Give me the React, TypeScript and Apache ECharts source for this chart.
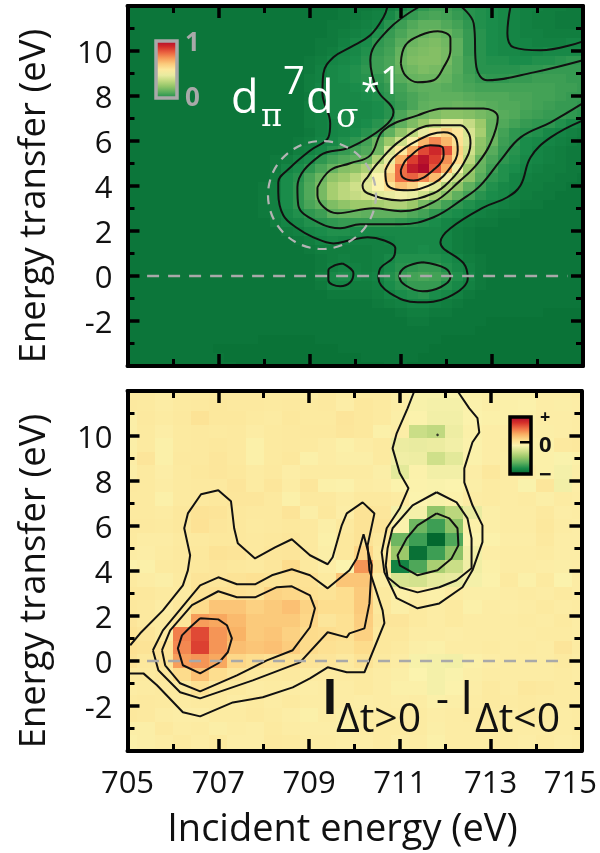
import React, { useEffect, useRef } from "react";
import * as echarts from "echarts";

const FONT = '"Open Sans", sans-serif';
const X_MIN = 705, X_MAX = 715, Y_MIN = -4, Y_MAX = 12;
const xMajor = [705, 707, 709, 711, 713, 715];
const xMinor = [706, 708, 710, 712, 714];
const yMajor = [-4, -2, 0, 2, 4, 6, 8, 10, 12];
const yMinor = [-3, -1, 1, 3, 5, 7, 9, 11];
const yLabels = [-2, 0, 2, 4, 6, 8, 10];
const colorStops = ["#03682f", "#1a8c4a", "#5fb05e", "#9cc96a", "#cfe08a", "#fbf3ae", "#fddc8c", "#f9ae62", "#ef6f45", "#d6302a", "#b00a2c"];

// Upper panel: intensity (0-100). Columns 705 + 0.25 i, rows 12 - 0.4 j.
const topRows = [
[4,4,4,4,4,4,4,4,4,4,4,4,4,4,4,4,4,4,4,5,5,5,6,7,9,11,13,15,15,13,12,11,10,9,8,7,7,6,6,5,5],
[4,4,4,4,4,4,4,4,4,4,4,4,4,4,4,4,4,4,4,5,5,6,7,9,12,14,16,17,16,14,12,11,10,9,8,7,6,6,5,5,5],
[4,4,4,4,4,4,4,4,4,4,4,4,4,4,4,4,4,4,5,5,6,7,8,12,15,18,20,20,18,16,13,11,10,9,8,7,6,6,5,5,5],
[4,4,4,4,4,4,4,4,4,4,4,4,4,4,4,4,4,4,5,6,7,8,11,14,17,20,21,23,21,18,14,12,10,9,8,7,7,6,6,6,6],
[4,4,4,4,4,4,4,4,4,4,4,4,4,4,4,4,4,5,5,7,9,10,13,15,19,22,24,25,23,20,14,12,10,9,8,8,7,7,7,8,8],
[4,4,4,4,4,4,4,4,4,4,4,4,4,4,4,4,4,5,6,8,9,11,14,16,21,24,25,26,24,20,14,12,10,9,9,8,8,9,9,9,9],
[4,4,4,4,4,4,4,4,4,4,4,4,4,4,4,4,5,6,8,9,10,12,15,17,22,25,26,26,24,19,15,12,11,11,10,10,11,11,12,13,13],
[4,4,4,4,4,4,4,4,4,4,4,4,4,4,4,4,5,7,9,10,11,13,15,17,21,23,25,24,22,19,15,12,12,12,12,13,13,14,14,14,14],
[4,4,4,4,4,4,4,4,4,4,4,4,4,4,4,4,6,7,9,10,11,12,13,16,19,21,22,22,21,18,16,14,13,13,14,14,15,15,15,14,14],
[4,4,4,4,4,4,4,4,4,4,4,4,4,4,4,4,6,8,9,9,10,11,12,14,16,19,20,20,19,18,17,16,16,16,16,16,16,16,15,15,14],
[4,4,4,4,4,4,4,4,4,4,4,4,4,4,4,4,5,7,9,9,9,10,11,13,15,17,19,20,20,20,19,18,18,18,17,17,16,16,15,14,14],
[4,4,4,4,4,4,4,4,4,4,4,4,4,4,4,4,6,7,9,9,9,9,10,12,14,17,20,21,21,22,21,20,19,18,18,17,16,15,14,14,13],
[4,4,4,4,4,4,4,4,4,4,4,4,4,4,4,4,6,7,9,9,9,9,10,12,17,21,23,25,27,27,26,24,22,19,18,16,15,14,14,13,12],
[4,4,4,4,4,4,4,4,4,4,4,4,4,4,4,4,6,7,8,9,9,10,12,15,20,25,30,37,44,44,38,30,21,18,16,14,13,13,11,9,8],
[4,4,4,4,4,4,4,4,4,4,4,4,4,4,4,4,5,7,8,9,10,12,14,20,28,36,46,55,62,56,42,32,21,16,13,12,11,9,8,7,6],
[4,4,4,4,4,4,4,4,4,4,4,4,4,4,4,5,6,8,9,11,13,16,22,30,40,52,68,76,68,58,43,28,22,15,13,10,9,8,7,6,5],
[4,4,4,4,4,4,4,4,4,4,4,4,4,4,4,6,7,9,12,14,16,18,23,42,55,70,86,92,85,62,40,27,19,14,12,10,8,7,6,5,5],
[4,4,4,4,4,4,4,4,4,4,4,4,4,5,6,8,10,13,16,18,20,22,34,46,70,88,97,88,75,60,36,22,17,13,11,9,8,7,6,5,5],
[4,4,4,4,4,4,4,4,4,4,4,4,4,5,8,10,13,17,21,26,28,33,44,58,80,95,100,84,70,48,30,21,15,11,10,8,7,6,6,5,5],
[4,4,4,4,4,4,4,4,4,4,4,4,4,6,10,12,17,22,28,31,36,42,50,64,80,82,76,67,48,38,28,19,13,11,8,7,6,6,5,5,4],
[4,4,4,4,4,4,4,4,4,4,4,4,5,7,10,13,18,24,32,36,40,44,50,58,66,62,52,44,34,28,20,15,11,9,8,6,6,5,5,4,4],
[4,4,4,4,4,4,4,4,4,4,4,4,5,7,10,13,18,24,32,36,38,40,44,46,48,46,40,33,26,20,16,12,10,9,7,6,5,5,4,4,4],
[4,4,4,4,4,4,4,4,4,4,4,4,5,7,10,13,17,20,25,28,30,30,32,34,34,30,24,20,16,13,11,9,8,7,6,5,5,4,4,4,4],
[4,4,4,4,4,4,4,4,4,4,4,4,5,7,9,11,13,15,20,21,21,20,20,20,20,18,16,13,11,10,8,7,6,5,5,4,4,4,4,4,4],
[4,4,4,4,4,4,4,4,4,4,4,4,4,6,8,9,11,12,13,14,14,14,14,14,13,12,11,10,8,7,6,5,5,4,4,4,4,4,4,4,4],
[4,4,4,4,4,4,4,4,4,4,4,4,4,4,6,7,9,10,11,11,10,9,9,9,9,9,9,9,8,6,5,4,4,4,4,4,4,4,4,4,4],
[4,4,4,4,4,4,4,4,4,4,4,4,4,4,4,5,6,8,9,8,7,7,7,8,9,9,9,9,8,6,5,4,4,4,4,4,4,4,4,4,4],
[4,4,4,4,4,4,4,4,4,4,4,4,4,4,4,4,5,6,6,6,6,6,7,7,9,9,10,9,8,6,5,4,4,4,4,4,4,4,4,4,4],
[4,4,4,4,4,4,4,4,4,4,4,4,4,4,4,4,4,5,6,7,6,6,7,9,11,11,11,11,10,8,6,5,4,4,4,4,4,4,4,4,4],
[4,4,4,4,4,4,4,4,4,4,4,4,4,4,4,4,4,5,7,8,7,6,7,10,12,13,14,14,11,9,7,5,4,4,4,4,4,4,4,4,4],
[4,4,4,4,4,4,4,4,4,4,4,4,4,4,4,4,4,6,9,10,8,7,8,11,14,16,17,16,14,11,8,5,4,4,4,4,4,4,4,4,4],
[4,4,4,4,4,4,4,4,4,4,4,4,4,4,4,4,4,5,8,8,6,6,7,10,12,14,14,14,11,9,7,5,4,4,4,4,4,4,4,4,4],
[4,4,4,4,4,4,4,4,4,4,4,4,4,4,4,4,4,4,5,5,5,5,6,8,10,11,12,10,9,7,5,4,4,4,4,4,4,4,4,4,4],
[4,4,4,4,4,4,4,4,4,4,4,4,4,4,4,4,4,4,4,4,4,4,5,6,7,8,8,7,6,5,4,4,4,4,4,4,4,4,4,4,4],
[4,4,4,4,4,4,4,4,4,4,4,4,4,4,4,4,4,4,4,4,4,4,4,4,5,6,6,5,5,4,4,4,4,4,4,4,4,3,3,3,3],
[4,4,4,4,4,4,4,4,4,4,4,4,4,4,4,4,4,4,4,4,4,4,4,4,4,5,5,4,4,4,4,4,3,3,3,3,3,3,3,3,3],
[4,4,4,4,4,4,4,4,4,4,4,4,4,4,4,4,4,4,4,4,4,4,4,4,4,4,4,4,4,4,4,3,3,3,3,3,3,3,3,3,3],
[4,4,4,4,4,4,4,4,4,4,4,4,3,3,3,3,3,4,4,4,4,4,4,4,4,4,4,4,3,3,3,3,3,3,3,3,3,3,3,3,3],
[4,4,4,4,4,4,4,4,3,3,3,3,3,3,3,3,3,3,3,4,4,4,4,4,4,4,4,3,3,3,3,3,3,3,3,3,3,3,3,3,3],
[4,4,4,4,4,4,4,4,4,3,3,3,3,3,3,3,3,3,3,3,3,4,4,4,4,4,3,3,3,3,3,3,3,3,3,3,3,3,3,3,3],
[4,4,4,4,4,4,4,4,4,4,3,3,3,3,3,3,3,3,3,3,3,3,3,4,4,3,3,3,3,3,3,3,3,3,3,3,3,3,3,3,3],
];

// Lower panel: difference (-100..100). Columns 705 + 0.4 i, rows 12 - 0.6 j.
const bottomRows = [
[8,8,6,8,8,9,9,9,8,8,6,9,6,8,8,5,-2,-2,-1,3,4,3,3,5,5,6],
[9,8,6,8,9,10,9,9,8,9,8,9,5,10,8,5,-2,-3,-3,2,4,3,2,5,4,5],
[4,9,7,9,14,10,10,8,7,10,8,8,12,10,8,4,1,-4,-4,1,3,3,3,5,5,6],
[4,8,5,8,9,8,9,6,8,9,9,9,11,10,3,5,-22,-26,-6,3,5,5,3,4,5,6],
[4,8,3,8,9,10,9,3,8,9,8,6,3,6,8,-7,-8,-7,-4,2,5,6,2,3,9,10],
[5,12,3,9,9,11,9,3,8,10,3,6,4,4,8,-5,-6,-20,-11,2,5,5,3,3,-1,3],
[4,8,5,8,10,11,10,7,9,5,7,7,7,7,4,-11,2,-4,-4,5,10,6,5,3,-3,4],
[9,8,6,8,9,9,12,7,11,6,11,3,2,6,5,1,1,-1,0,4,7,6,-1,11,-4,5],
[8,8,3,8,9,10,11,11,9,3,9,9,6,9,9,7,0,-2,2,6,7,6,7,4,7,6],
[8,8,7,10,14,13,10,9,9,13,4,10,5,14,11,-3,-3,-44,-28,-8,4,6,6,9,5,6],
[9,9,8,10,15,11,10,8,9,10,9,4,9,14,13,1,-55,-70,-45,3,4,6,6,10,6,5],
[8,6,6,8,9,10,10,9,10,11,9,3,10,14,10,-55,-70,-100,-65,0,2,5,5,9,5,5],
[6,5,7,9,10,14,13,9,11,12,9,4,10,22,8,-40,-95,-70,-45,-4,5,6,6,7,5,5],
[1,3,8,9,10,11,10,9,11,20,9,5,0,48,15,-85,-65,-35,-22,-5,3,6,6,5,4,5],
[8,6,4,8,13,12,14,16,14,16,15,8,30,30,5,-16,-18,-10,-8,-3,2,8,3,8,1,6],
[10,10,8,7,14,16,16,14,24,22,16,14,18,28,8,3,4,3,6,4,4,6,7,6,8,6],
[10,9,6,10,20,30,30,25,28,32,24,18,18,28,10,4,8,6,8,3,6,5,6,8,6,7],
[12,9,8,12,45,42,35,28,28,28,22,12,16,26,12,12,8,6,8,6,6,6,7,6,8,6],
[14,12,8,55,72,48,38,28,30,25,20,18,16,25,10,10,6,6,5,6,6,6,6,7,7,6],
[16,14,15,52,75,48,33,30,32,27,20,16,14,20,10,8,4,3,6,6,7,6,7,6,12,7],
[14,10,14,45,48,42,22,18,15,16,13,12,9,14,8,6,-2,-3,-4,3,5,6,6,6,8,6],
[8,8,10,20,32,18,12,9,8,9,7,7,7,8,6,4,0,-3,-1,4,6,6,6,6,7,6],
[6,7,8,8,16,9,8,6,7,6,5,6,6,8,6,3,3,-3,1,5,8,6,10,9,7,7],
[8,9,8,7,8,8,6,8,6,8,6,6,6,5,6,5,6,3,4,6,8,7,8,7,7,7],
[10,9,6,5,5,7,7,9,7,5,3,6,4,6,6,6,7,5,6,7,7,6,8,7,6,7],
[4,4,9,6,7,4,6,5,8,6,5,5,4,6,7,7,7,4,6,6,6,6,6,6,6,7],
[3,4,6,8,6,8,5,5,9,8,6,6,5,5,7,5,6,3,6,6,6,6,5,7,5,6],
];

const topOuter = [[710.71,12],[710.62,11.5],[710.33,10.7],[709.89,10.16],[709.52,9.72],[709.3,9],[709.28,8.12],[709.45,6.79],[709.41,6.16],[709.02,5.59],[708.58,4.83],[708.31,4.16],[708.31,3.72],[708.42,2.7],[708.73,2.12],[709.08,1.72],[709.52,1.45],[709.89,1.59],[710.27,1.72],[710.62,1.59],[710.88,1.23],[710.84,0.83],[710.55,0.34],[710.51,-0.1],[710.77,-0.77],[711.37,-1.17],[712.03,-0.95],[712.47,-0.1],[712.38,0.56],[711.87,1.5],[712.09,2.12],[712.82,3.05],[713.34,3.5],[713.63,4.03],[713.85,5.28],[714.29,6.16],[715,6.92]];
const topSecond = [[711.43,12],[710.71,10.92],[710.33,9.59],[710.49,8.25],[710.84,7.28],[710.62,6.61],[709.89,5.72],[709.23,5.36],[708.73,3.94],[708.75,3.14],[709.23,2.34],[709.67,2.12],[710.11,2.3],[711,2.3],[711.72,2.61],[712.38,3.45],[712.75,4.03],[713.19,5.14],[713.63,6.16],[714.29,6.83],[715,7.68]];
const topThird = [[709.17,3.94],[709.45,4.7],[709.89,5.01],[710.33,5.36],[710.62,6.48],[711.37,7.14],[711.94,7.45],[712.82,7.45],[713.13,7.05],[712.97,5.9],[712.69,5.01],[712.31,4.25],[711.72,3.28],[711,2.88],[710.4,3.01],[709.61,2.79],[709.17,3.59],[709.17,3.94]];
const topFourth = [[710.27,4.39],[710.49,5.01],[711,6.03],[711.72,6.7],[712.31,6.7],[712.49,6.34],[712.53,5.9],[712.38,5.01],[712.09,4.25],[711.72,3.68],[711,3.36],[710.27,3.68],[710.16,4.03],[710.27,4.39]];
const topFifth = [[710.66,4.7],[710.84,5.28],[711.37,6.03],[711.94,6.39],[712.2,6.16],[712.25,5.59],[712.09,4.83],[711.72,4.12],[711.15,3.81],[710.71,4.03],[710.66,4.7]];
const topSixth = [[711,4.7],[711.15,5.23],[711.65,5.81],[711.92,5.72],[711.94,5.36],[711.76,4.79],[711.28,4.25],[711.04,4.39],[711,4.7]];
const topLobe = [[711,9.45],[711.1,10.25],[711.43,10.7],[711.81,10.88],[712.09,10.56],[712.09,10.03],[711.94,9.28],[711.72,8.7],[711.37,8.61],[711.1,8.92],[711,9.45]];
const topRightA = [[712.31,12],[712.6,11.23],[712.66,9.28],[712.9,8.7],[713.92,9.05],[715,9.59]];
const topRightB = [[713.41,12],[713.34,10.79],[713.48,10.16],[714.07,10.03],[715,10.43]];
const topSmall = [[709.72,0.56],[709.96,0.12],[709.89,-0.28],[709.67,-0.46],[709.41,-0.19],[709.41,0.25],[709.56,0.48],[709.72,0.56]];
const topLower = [[711.48,0.61],[711.98,0.34],[712.09,-0.06],[711.87,-0.5],[711.48,-0.68],[711.1,-0.41],[710.97,-0.01],[711.1,0.39],[711.48,0.61]];

const botOuter = [[705.06,0.7],[705.28,1.23],[705.78,2.25],[706.22,3.36],[706.33,4.03],[706.38,4.7],[706.25,5.9],[706.33,6.56],[706.62,7.41],[707,7.59],[707.28,7.1],[707.35,5.9],[707.43,5.23],[707.81,4.56],[708.25,5.05],[708.62,5.41],[709.02,4.7],[709.41,4.3],[709.52,4.61],[709.72,6.03],[709.83,6.56],[710.18,7.05],[710.44,6.56],[710.29,5.14],[710.33,4.03],[710.62,2.25],[710.66,1.68],[710.22,-0.5],[709.83,-0.5],[709.41,-0.28],[709.02,-0.77],[708.64,-1.17],[707.98,-1.61],[707.32,-1.84],[706.6,-2.46],[706.22,-2.28],[705.65,-1.08],[705.35,-0.55],[705.02,-0.55]];
const botSecond = [[705.56,0.48],[705.78,1.36],[706.38,2.83],[706.6,3.36],[707,3.72],[707.41,3.41],[707.81,3.41],[708.18,3.81],[708.62,4.08],[709.02,3.81],[709.41,3.23],[709.89,4.03],[710.05,4.56],[710.2,5.63],[710.38,4.25],[710.33,2.56],[710.22,1.45],[709.89,1.23],[709.83,1.05],[709.41,1.28],[708.8,-0.06],[707.76,-0.86],[706.6,-1.66],[706.16,-1.39],[705.68,-0.41],[705.56,0.48]];
const botThird = [[705.76,0.48],[705.94,1.36],[706.42,2.48],[707,3.1],[707.41,2.83],[707.81,2.83],[708.29,3.28],[708.62,3.32],[709.02,2.92],[709.13,2.34],[709.02,1.5],[708.64,0.48],[708.07,0.03],[707.41,-0.64],[706.6,-1.35],[706.16,-0.99],[705.83,-0.19],[705.76,0.48]];
const botFourth = [[706.6,1.9],[707,1.85],[707.19,1.59],[707.3,1.01],[707.21,0.39],[707,-0.1],[706.6,-0.55],[706.22,-0.19],[706.11,0.56],[706.2,1.14],[706.38,1.5],[706.6,1.9]];
const botRightA = [[711.32,12],[711.17,11.23],[710.93,10.12],[710.84,9.45],[711,8.34],[711.19,7.68],[711,6.79],[710.71,5.9],[710.6,4.83],[710.66,3.94],[710.93,2.79],[711.39,2.34],[711.87,2.56],[712.38,3.28],[712.6,4.03],[712.82,5.28],[712.82,6.03],[712.6,6.92],[712.42,7.94],[712.42,8.56],[712.6,9.72],[712.75,10.16],[712.71,10.79],[712.53,11.23],[712.27,12]];
const botRightB = [[711.81,7.5],[712.25,7.05],[712.49,6.34],[712.58,5.45],[712.58,4.12],[712.25,3.59],[711.87,3.28],[711.39,3.05],[711,3.28],[710.73,3.72],[710.69,4.25],[710.73,5.01],[710.84,5.9],[711.28,6.92],[711.81,7.5]];
const botRightC = [[711.81,6.56],[712.09,6.34],[712.27,5.9],[712.29,5.14],[712.14,4.56],[711.83,4.03],[711.39,3.81],[711,4.25],[710.95,4.7],[711.15,5.45],[711.39,6.03],[711.81,6.56]];
const botDot = [[711.83, 10.05]];
const zeroLine = [[705.43, 0], [714.66, 0]];

const colorOf = (t: number) => echarts.color.lerp(Math.max(0, Math.min(1, t)), colorStops);
const snap = (p: number) => Math.round(p + 0.01);

function heat(rows: number[][], sx: number, sy: number, toT: (v: number) => number, ax: number) {
  const data: number[][] = [];
  rows.forEach((r, j) => r.forEach((v, i) => data.push([X_MIN + i * sx, Y_MAX - j * sy, v])));
  return {
    type: "custom", xAxisIndex: ax, yAxisIndex: ax, z: 1, silent: true, clip: true,
    encode: { x: 0, y: 1 }, data,
    renderItem: (params: any, api: any) => {
      const x = api.value(0), y = api.value(1), v = api.value(2);
      const a = api.coord([x - sx / 2, y + sy / 2]);
      const b = api.coord([x + sx / 2, y - sy / 2]);
      const l = snap(a[0]), t = snap(a[1]);
      const shape = echarts.graphic.clipRectByRect(
        { x: l, y: t, width: snap(b[0]) - l, height: snap(b[1]) - t },
        { x: params.coordSys.x, y: params.coordSys.y, width: params.coordSys.width, height: params.coordSys.height });
      if (!shape) return null;
      return { type: "rect", shape, style: { fill: colorOf(toT(v)) } };
    },
  };
}

const contour = (data: number[][], ax: number, smooth: number, width: number) => ({
  type: "line", xAxisIndex: ax, yAxisIndex: ax, data, smooth, symbol: "none", z: 3, silent: true,
  lineStyle: { color: "#111", width },
});

const zero = (ax: number) => ({
  type: "line", xAxisIndex: ax, yAxisIndex: ax, data: zeroLine, symbol: "none", z: 4, silent: true,
  lineStyle: { color: "#a9a9a9", width: 2.5, type: [12, 9] },
});

function xAxes(grid: number, withLabels: boolean) {
  const base = { type: "value", gridIndex: grid, min: X_MIN, max: X_MAX, z: 6, splitLine: { show: false } };
  const tick = (vals: number[], length: number, width: number) => ({ show: true, inside: true, length, customValues: vals, lineStyle: { color: "#000", width } });
  const line = { show: true, onZero: false, lineStyle: { color: "#000", width: 4 } };
  const hidden = { show: false, onZero: false };
  return [
    { ...base, position: "bottom", axisLine: line, axisTick: tick(xMajor, 12, 3.5),
      name: withLabels ? "Incident energy (eV)" : "", nameLocation: "middle", nameGap: 56,
      nameTextStyle: { fontFamily: FONT, fontSize: 38, color: "#111", padding: [0, 24, 0, 0] },
      axisLabel: withLabels ? { show: true, margin: 14, customValues: xMajor, fontFamily: FONT, fontSize: 31, color: "#111",
        formatter: (v: number) => (v === 715 ? "{s|715}" : String(v)),
        rich: { s: { fontFamily: FONT, fontSize: 31, color: "#111", padding: [0, 22, 0, 0] } } } : { show: false } },
    { ...base, position: "top", axisLine: line, axisTick: tick(xMajor, 12, 3.5), axisLabel: { show: false } },
    { ...base, position: "bottom", axisLine: hidden, axisTick: tick(xMinor, 7, 3), axisLabel: { show: false } },
    { ...base, position: "top", axisLine: hidden, axisTick: tick(xMinor, 7, 3), axisLabel: { show: false } },
  ];
}

function yAxes(grid: number) {
  const base = { type: "value", gridIndex: grid, min: Y_MIN, max: Y_MAX, z: 6, splitLine: { show: false } };
  const tick = (vals: number[], length: number, width: number) => ({ show: true, inside: true, length, customValues: vals, lineStyle: { color: "#000", width } });
  const line = { show: true, onZero: false, lineStyle: { color: "#000", width: 4 } };
  const hidden = { show: false, onZero: false };
  return [
    { ...base, position: "left", axisLine: line, axisTick: tick(yMajor, 12, 3.5),
      name: "Energy transfer (eV)", nameLocation: "middle", nameGap: 78, nameRotate: 90,
      nameTextStyle: { fontFamily: FONT, fontSize: 36.5, color: "#111", padding: [0, 20, 0, 0] },
      axisLabel: { show: true, margin: 15, customValues: yLabels, fontFamily: FONT, fontSize: 31, color: "#111" } },
    { ...base, position: "right", axisLine: line, axisTick: tick(yMajor, 12, 3.5), axisLabel: { show: false } },
    { ...base, position: "left", axisLine: hidden, axisTick: tick(yMinor, 7, 3), axisLabel: { show: false } },
    { ...base, position: "right", axisLine: hidden, axisTick: tick(yMinor, 7, 3), axisLabel: { show: false } },
  ];
}

const label = (text: string, x: number, y: number, size: number, fill: string, extra: any = {}) => ({
  type: "text", x, y, z: 20, silent: true,
  style: { text, fill, fontFamily: FONT, fontSize: size, textAlign: "left", textVerticalAlign: "middle", ...extra },
});

const gradient = (from: number, to: number) => ({
  type: "linear", x: 0, y: 1, x2: 0, y2: 0,
  colorStops: Array.from({ length: 11 }, (_, k) => ({ offset: k / 10, color: colorOf(from + (to - from) * k / 10) })),
});

const GREEK = '"DejaVu Serif", serif';
const graphicItems = [
  { type: "circle", z: 15, silent: true, shape: { cx: 322, cy: 195, r: 54 }, style: { fill: "none", stroke: "#b4b4b4", lineWidth: 2.2, lineDash: [9, 7] } },
  { type: "rect", z: 15, silent: true, shape: { x: 156, y: 41, width: 21, height: 57 }, style: { fill: gradient(0.1, 1), stroke: "#a9a9a9", lineWidth: 3.5 } },
  label("1", 185, 41, 26, "#a9a9a9", { fontWeight: "bold" }),
  label("0", 185, 96, 26, "#a9a9a9", { fontWeight: "bold" }),
  label("d", 231, 95, 45, "#fff"),
  label("π", 261, 115, 32, "#fff", { fontFamily: GREEK }),
  label("7", 283, 79, 38, "#fff"),
  label("d", 306, 95, 45, "#fff"),
  label("σ", 336, 115, 33, "#fff", { fontFamily: GREEK }),
  label("*", 361, 90, 34, "#fff"),
  label("1", 380, 79, 38, "#fff"),
  { type: "rect", z: 15, silent: true, shape: { x: 510, y: 417, width: 21, height: 57 }, style: { fill: gradient(0, 1), stroke: "#000", lineWidth: 3.5 } },
  { type: "rect", z: 16, silent: true, shape: { x: 520, y: 441, width: 11, height: 2.5 }, style: { fill: "#000" } },
  label("+", 540, 416, 18, "#111", { fontWeight: "bold" }),
  label("0", 539, 443, 22, "#111", { fontWeight: "bold" }),
  label("−", 539, 473, 22, "#111", { fontWeight: "bold" }),
  label("I", 322, 695, 48, "#111", { fontWeight: "bold" }),
  label("Δt>0", 336, 716, 41, "#111"),
  label("-", 436, 696, 40, "#111"),
  label("I", 460, 695, 48, "#111"),
  label("Δt<0", 475, 716, 41, "#111"),
];

export default function App() {
  const ref = useRef<HTMLDivElement>(null);
  useEffect(() => {
    if (!ref.current) return;
    const chart = echarts.init(ref.current, undefined, { renderer: "svg" });
    const AX2 = 4;
    chart.setOption({
      animation: false,
      backgroundColor: "#fff",
      grid: [
        { left: 127.5, top: 6, width: 455.5, height: 360 },
        { left: 127.5, top: 391, width: 455.5, height: 360 },
      ],
      xAxis: [...xAxes(0, false), ...xAxes(1, true)],
      yAxis: [...yAxes(0), ...yAxes(1)],
      series: [
        heat(topRows, 0.25, 0.4, (v) => v / 100, 0),
        contour(topOuter, 0, 0.4, 2), contour(topSecond, 0, 0.4, 2), contour(topThird, 0, 0.4, 2),
        contour(topFourth, 0, 0.4, 2), contour(topFifth, 0, 0.4, 2), contour(topSixth, 0, 0.4, 2),
        contour(topLobe, 0, 0.4, 2), contour(topRightA, 0, 0.4, 2), contour(topRightB, 0, 0.4, 2),
        contour(topSmall, 0, 0.4, 2), contour(topLower, 0, 0.4, 2),
        zero(0),
        heat(bottomRows, 0.4, 0.6, (v) => (v + 100) / 200, AX2),
        contour(botOuter, AX2, 0, 2), contour(botSecond, AX2, 0, 2), contour(botThird, AX2, 0, 2),
        contour(botFourth, AX2, 0, 2), contour(botRightA, AX2, 0, 2), contour(botRightB, AX2, 0, 2),
        contour(botRightC, AX2, 0, 2),
        { type: "scatter", xAxisIndex: AX2, yAxisIndex: AX2, data: botDot, symbolSize: 2.5, z: 3, silent: true, itemStyle: { color: "#111" } },
        zero(AX2),
      ],
      graphic: { elements: graphicItems },
    });
    return () => chart.dispose();
  }, []);
  return <div ref={ref} style={{ position: "fixed", left: 0, top: 0, width: 600, height: 853, filter: "blur(0.4px)" }} />;
}
